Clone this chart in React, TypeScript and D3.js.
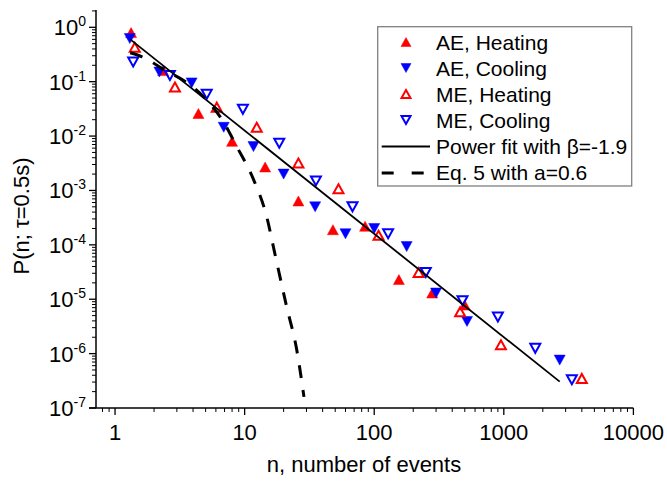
import React from "react";
import * as d3 from "d3";

// ---- Data ----
const aeHeatN = [1.33, 2.35, 4.4, 8.0, 14.4, 26, 48, 85, 155, 280, 500];
const aeHeatP = [0.8, 0.16, 0.026, 0.008, 0.0027, 6.4e-4, 1.9e-4, 2.2e-4, 2.3e-5, 1.3e-5, 7.8e-6];

const aeCoolN = [1.3, 2.2, 3.9, 6.9, 11.7, 20, 35, 60, 100, 178, 300, 520, 2700];
const aeCoolP = [0.62, 0.15, 0.095, 0.0145, 0.0064, 0.002, 5.0e-4, 1.6e-4, 2.0e-4, 9.3e-5, 1.3e-5, 3.9e-6, 7.6e-7];

const meHeatN = [1.42, 2.9, 6.1, 12.4, 26, 53, 108, 220, 460, 950, 4000];
const meHeatP = [0.43, 0.08, 0.034, 0.0145, 0.0032, 0.00107, 1.5e-4, 3.1e-5, 5.9e-6, 1.45e-6, 3.5e-7];

const meCoolN = [1.38, 2.65, 5.1, 9.7, 18.5, 35.5, 68, 128, 250, 480, 900, 1750, 3350];
const meCoolP = [0.23, 0.13, 0.059, 0.031, 0.0074, 0.0015, 5.0e-4, 1.6e-4, 3.1e-5, 9.4e-6, 4.7e-6, 1.25e-6, 3.3e-7];

// Power fit line endpoints (beta = -1.9)
const fitN = [1.31, 2700];
const fitP = [0.6, 3.05e-7];

// Eq. 5 curve, traced points
const eqN = [1.31, 1.6, 2.5, 3.5, 5.1, 6.7, 8.7, 11.7, 14.8, 17.2, 21.1, 25.2, 28.7];
const eqP = [0.34, 0.29, 0.155, 0.1, 0.046, 0.02, 0.0064, 0.0016, 3.3e-4, 6.5e-5, 7.3e-6, 1.2e-6, 1.6e-7];

const xTicks = [1, 10, 100, 1000, 10000];
const xTickLabels = ["1", "10", "100", "1000", "10000"];
const yExps = [0, -1, -2, -3, -4, -5, -6, -7];

const legendLabels = ["AE, Heating", "AE, Cooling", "ME, Heating", "ME, Cooling", "Power fit with \u03b2=-1.9", "Eq. 5 with a=0.6"];

const RED = "#ff0000";
const BLUE = "#0000ff";
const FONT = "'Liberation Sans', Arial, sans-serif";

function tri(cx: number, cy: number, up: boolean, w = 11, h = 10) {
  const s = up ? 1 : -1;
  return `M${cx},${cy - (s * h) / 2}L${cx + w / 2},${cy + (s * h) / 2}L${cx - w / 2},${cy + (s * h) / 2}Z`;
}

export default function App() {
  const W = 667, H = 481;
  const x = d3.scaleLog().domain([0.713, 10000]).range([96, 633.4]);
  const y = d3.scaleLog().domain([1e-7, 2.08]).range([408, 10]);

  const xMinor: number[] = [];
  for (let e = -1; e <= 3; e++) {
    for (let k = 2; k <= 9; k++) {
      const v = k * Math.pow(10, e);
      if (v >= 0.713 && v <= 10000) xMinor.push(v);
    }
  }
  const yMinor: number[] = [];
  for (let e = -7; e <= 0; e++) {
    for (let k = 2; k <= 9; k++) {
      const v = k * Math.pow(10, e);
      if (v <= 2.08) yMinor.push(v);
    }
  }

  const line = d3.line<[number, number]>().x((d) => x(d[0])).y((d) => y(d[1]));
  const curve = d3
    .line<[number, number]>()
    .x((d) => x(d[0]))
    .y((d) => y(d[1]))
    .curve(d3.curveMonotoneX);

  const zip = (a: number[], b: number[]) => a.map((v, i) => [v, b[i]] as [number, number]);

  const series = [
    { n: aeHeatN, p: aeHeatP, up: true, filled: true, color: RED },
    { n: aeCoolN, p: aeCoolP, up: false, filled: true, color: BLUE },
    { n: meHeatN, p: meHeatP, up: true, filled: false, color: RED },
    { n: meCoolN, p: meCoolP, up: false, filled: false, color: BLUE },
  ];

  const legY = [50, 76, 102, 128, 154, 180];

  return (
    <svg width={W} height={H} style={{ position: "absolute", left: 0, top: 0, background: "#fff" }} fontFamily={FONT}>
      <rect x={0} y={0} width={W} height={H} fill="#fff" />
      {/* Axes */}
      <line x1={96} y1={10} x2={96} y2={408} stroke="#000" strokeWidth={1.5} />
      <line x1={89} y1={408} x2={633.4} y2={408} stroke="#000" strokeWidth={1.5} />
      {yExps.map((e) => (
        <line key={"ym" + e} x1={89} x2={96} y1={y(Math.pow(10, e))} y2={y(Math.pow(10, e))} stroke="#000" strokeWidth={1.3} />
      ))}
      {yMinor.map((v, i) => (
        <line key={"yn" + i} x1={92} x2={96} y1={y(v)} y2={y(v)} stroke="#000" strokeWidth={1} />
      ))}
      {xTicks.map((v) => (
        <line key={"xm" + v} x1={x(v)} x2={x(v)} y1={408} y2={415} stroke="#000" strokeWidth={1.3} />
      ))}
      {xMinor.map((v, i) => (
        <line key={"xn" + i} x1={x(v)} x2={x(v)} y1={408} y2={412} stroke="#000" strokeWidth={1} />
      ))}
      {xTicks.map((v, i) => (
        <text key={"xl" + v} x={x(v)} y={440} fontSize={22} textAnchor="middle" fill="#000">
          {xTickLabels[i]}
        </text>
      ))}
      {yExps.map((e) => (
        <text key={"yl" + e} x={86} y={y(Math.pow(10, e)) + 8} fontSize={22} textAnchor="end" fill="#000">
          <tspan>10</tspan>
          <tspan fontSize={14} dy={-9}>{String(e)}</tspan>
        </text>
      ))}
      <text x={364} y={472} fontSize={22} textAnchor="middle" fill="#000">
        n, number of events
      </text>
      <text transform="translate(29,216) rotate(-90)" fontSize={22} textAnchor="middle" fill="#000">
        P(n; {"\u03c4"}=0.5s)
      </text>

      {/* Markers */}
      {series.map((s, si) =>
        s.n.map((nv, i) => (
          <path
            key={`m${si}-${i}`}
            d={tri(x(nv), y(s.p[i]), s.up, s.filled ? 11 : 10, s.filled ? 10 : 9)}
            fill={s.filled ? s.color : "none"}
            stroke={s.color}
            strokeWidth={s.filled ? 0.5 : 2}
          />
        ))
      )}

      {/* Lines */}
      <path d={line(zip(fitN, fitP)) || ""} fill="none" stroke="#000" strokeWidth={1.8} />
      <path d={curve(zip(eqN, eqP)) || ""} fill="none" stroke="#000" strokeWidth={3} strokeDasharray="13 12" />

      {/* Legend */}
      <rect x={377.7} y={26.7} width={254} height={159.3} fill="#fff" stroke="#808080" strokeWidth={1.3} />
      {series.map((s, i) => (
        <path
          key={"lg" + i}
          d={tri(406, legY[i] - 8, s.up, s.filled ? 10 : 9, s.filled ? 9 : 8)}
          fill={s.filled ? s.color : "none"}
          stroke={s.color}
          strokeWidth={s.filled ? 0.5 : 2}
        />
      ))}
      <line x1={381.7} x2={430} y1={legY[4] - 7.5} y2={legY[4] - 7.5} stroke="#000" strokeWidth={1.8} />
      <line x1={381.7} x2={426} y1={legY[5] - 7} y2={legY[5] - 7} stroke="#000" strokeWidth={3} strokeDasharray="12 18" />
      {legendLabels.map((t, i) => (
        <text key={"lt" + i} x={436} y={legY[i]} fontSize={21} fill="#000">
          {t}
        </text>
      ))}
    </svg>
  );
}
